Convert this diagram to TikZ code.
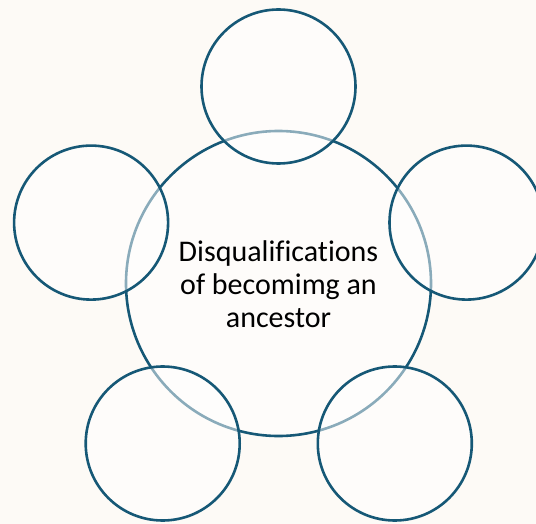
\documentclass[tikz,border=0pt]{standalone}
\usepackage{fontspec}
\setmainfont[Ligatures=NoCommon]{Carlito}
\definecolor{bgcol}{RGB}{253,250,246}
\definecolor{ringcol}{RGB}{22,88,118}
\begin{document}
\begin{tikzpicture}[x=1pt,y=-1pt,
  ring/.style={draw=ringcol,line width=2.6pt,fill=white,fill opacity=0.5,draw opacity=1,circle,inner sep=0pt},
  big/.style={ring,minimum size=305pt},
  small/.style={ring,minimum size=154pt},
  label/.style={font=\fontsize{30}{33}\selectfont,align=center,text=black}]
\fill[bgcol] (0,0) rectangle (536,524);
\useasboundingbox (0,0) rectangle (536,524);
\node[big] (c) at (278.5,283.5) {};
\node[small] (s1) at (278.5,86.5) {};
\node[small] (s2) at (466.5,222.6) {};
\node[small] (s3) at (394.8,443.5) {};
\node[small] (s4) at (162.7,443.5) {};
\node[small] (s5) at (91.1,222.6) {};
\node[label] (t) at (278.5,284) {Disqualifications\\of becomimg an\\ancestor};
\end{tikzpicture}
\end{document}
